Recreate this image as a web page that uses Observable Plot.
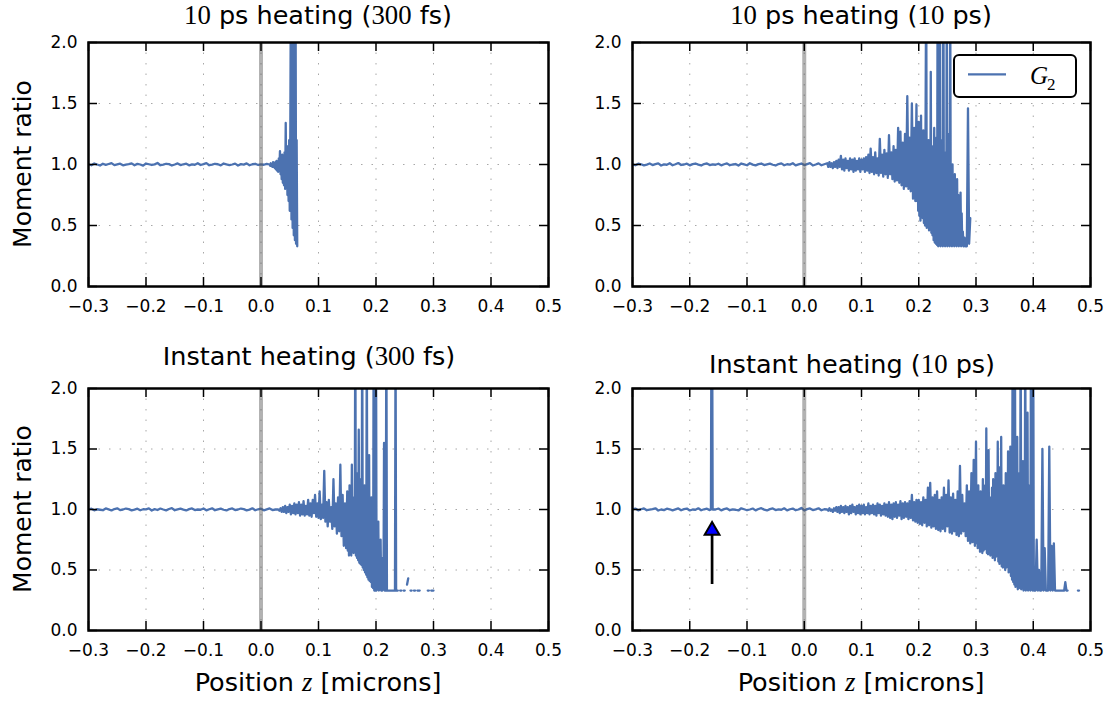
<!DOCTYPE html>
<html>
<head>
<meta charset="utf-8">
<script src="https://cdn.jsdelivr.net/npm/d3@7"></script>
<script src="https://cdn.jsdelivr.net/npm/@observablehq/plot@0.6"></script>
<style>
  body { margin: 0; background: #fff; }
  #chart { position: relative; width: 1111px; height: 705px; overflow: hidden; background: #fff; font-family: "DejaVu Sans", sans-serif; color: #000; }
  .panel { position: absolute; }
  .title { position: absolute; font-size: 25.5px; line-height: 25.5px; text-align: center; white-space: nowrap; }
  .m { font-family: "Liberation Serif", serif; font-size: 1.05em; }
  .mi { font-family: "Liberation Serif", serif; font-style: italic; font-size: 1.05em; }
  .ylab { position: absolute; font-size: 25px; line-height: 25px; white-space: nowrap; transform: translate(-50%, -50%) rotate(-90deg); }
  .xlab { position: absolute; font-size: 25.5px; line-height: 25.5px; text-align: center; white-space: nowrap; }
  .legend { position: absolute; box-sizing: border-box; border: 2px solid #000; border-radius: 6px; background: #fff; }
</style>
</head>
<body>
<div id="chart"></div>
<script>
// ---------- axis ticks ----------
const zTicks = [-0.3, -0.2, -0.1, 0.0, 0.1, 0.2, 0.3, 0.4, 0.5];
const ratioTicks = [0, 0.5, 1.0, 1.5, 2.0];
const markerZ = [0]; // grey band at z = 0

// ---------- panel titles ----------
const titles = [
  '<span class="m">10</span> ps heating (<span class="m">300</span> fs)',
  '<span class="m">10</span> ps heating (<span class="m">10</span> ps)',
  'Instant heating (<span class="m">300</span> fs)',
  'Instant heating (<span class="m">10</span> ps)'
];
const yLabel = "Moment ratio";
const xLabel = 'Position <span class="mi">z</span> [microns]';
const seriesName = "G";
const seriesSub = "2";

// ---------- data: G2 moment ratio ----------
// top-left: z=-0.300..0.010 step 0.005
const tlFlat = [1.002,0.994,1.008,1.000,0.992,1.006,0.997,1.004,1.011,0.995,
  1.001,1.007,0.993,0.999,1.003,1.009,0.994,1.005,1.000,0.991,
  1.008,1.002,0.996,1.001,1.012,0.994,0.999,1.006,1.003,0.992,
  1.000,1.009,0.995,1.002,1.007,0.993,1.001,0.998,1.010,0.996,
  1.003,1.011,0.994,0.999,1.006,1.002,0.993,1.008,1.001,0.995,
  1.000,1.007,0.992,1.003,0.999,1.009,0.994,1.002,1.006,0.996,
  1.001,0.998,1.005];
// top-left: z=0.015..0.063 step 0.001
const tlNoise = [1.00,0.99,1.01,0.99,1.00,0.98,1.02,0.98,1.01,0.97,
  1.02,0.96,1.03,0.95,1.02,0.94,1.05,0.96,1.11,0.92,
  1.06,0.88,1.08,0.85,1.04,0.83,1.10,0.80,1.34,0.82,
  1.12,0.75,1.15,0.70,1.20,0.62,1.30,2.60,0.55,2.80,
  0.48,2.50,0.42,2.90,0.38,2.70,0.35,1.20,0.33];

// top-right: z=-0.300..0.035 step 0.005
const trFlat = [1.001,0.994,1.007,1.002,0.993,0.999,1.008,0.995,1.003,1.009,
  0.992,1.001,0.998,1.010,0.994,1.002,1.012,0.996,1.000,1.007,
  0.993,1.003,1.008,0.999,0.992,1.004,1.009,0.995,1.001,0.998,
  1.006,0.993,1.002,1.009,0.994,1.000,1.004,0.991,1.008,1.001,
  0.994,1.010,0.999,0.993,1.003,1.008,0.995,1.001,1.007,0.998,
  0.992,1.004,1.009,0.994,1.002,0.999,1.010,0.993,1.001,1.008,
  0.995,1.003,1.011,0.992,1.000,1.009,0.994,1.002];
// top-right: z=0.040..0.194 step 0.002
const trNoise = [1.01,0.98,1.02,0.98,1.01,0.97,1.02,0.98,1.03,0.97,
  1.04,0.98,1.07,0.96,1.04,0.95,1.05,0.97,1.03,0.95,
  1.05,0.96,1.04,0.94,1.05,0.95,1.03,0.96,1.05,0.94,
  1.04,0.96,1.05,0.94,1.06,0.95,1.08,0.93,1.13,0.94,
  1.06,0.92,1.10,0.93,1.05,0.91,1.21,0.93,1.08,0.90,
  1.12,0.92,1.09,0.89,1.24,0.92,1.10,0.88,1.15,0.86,
  1.12,0.87,1.30,0.85,1.27,0.83,1.18,0.80,1.25,0.82,
  1.56,0.80,1.22,0.78,1.50,0.72,1.30,0.70];
// top-right: z=0.196..0.280 step 0.001
const trDense = [1.49,0.70,1.20,0.62,1.35,0.58,1.15,0.54,1.40,0.60,
  1.10,0.56,1.28,0.52,1.05,0.50,1.45,2.60,0.48,1.12,
  0.50,1.20,0.46,1.05,0.50,1.76,0.44,1.15,0.42,1.00,
  0.38,1.30,0.36,1.10,0.35,1.22,0.34,2.60,0.33,1.05,
  0.34,2.70,0.33,1.15,0.35,1.20,0.33,2.80,0.35,1.00,
  0.33,1.10,0.34,2.50,0.33,0.95,0.34,1.25,0.33,2.40,
  0.34,0.90,0.33,1.00,0.34,0.85,0.33,0.92,0.34,0.80,
  0.33,0.88,0.34,0.75,0.33,0.70,0.34,0.77,0.33,0.60,
  0.34,0.45,0.33,0.33,0.40];
// top-right: z=0.282..0.290 step 0.002
const trTail = [0.33,0.33,1.46,0.35,0.56];

// bottom-left: z=-0.300..0.025 step 0.005
const blFlat = [1.000,1.007,0.993,1.002,0.998,0.994,1.009,1.001,0.992,1.004,
  1.010,0.995,1.000,1.008,1.003,0.993,0.999,1.007,0.994,1.002,
  1.001,1.009,0.992,1.003,0.996,1.008,1.000,0.993,1.004,1.011,
  0.994,1.001,1.007,0.999,0.992,1.003,1.009,0.995,1.000,0.998,
  1.008,0.993,1.002,1.010,0.994,1.001,1.007,0.998,0.992,1.004,
  1.009,0.995,1.000,1.008,1.003,0.993,0.999,1.010,0.994,1.002,
  1.007,0.993,1.001,1.009,0.995,1.000];
// bottom-left: z=0.030..0.148 step 0.002
const blNoise = [1.00,0.99,1.01,0.98,1.02,0.98,1.03,0.97,1.02,0.98,
  1.04,0.96,1.03,0.97,1.05,0.96,1.04,0.97,1.06,0.95,
  1.04,0.96,1.07,0.95,1.03,0.96,1.08,0.95,1.05,0.94,
  1.08,0.97,1.12,0.94,1.05,0.93,1.15,0.92,1.04,0.93,
  1.32,0.90,1.06,0.86,1.08,0.90,1.02,0.84,1.25,0.86,
  1.05,0.80,1.10,0.82,1.37,0.78,1.12,0.70,1.05,0.68];
// bottom-left: z=0.150..0.236 step 0.001
const blDense = [1.15,0.66,1.02,0.62,1.20,0.65,0.98,0.62,1.37,0.66,
  1.05,0.64,1.10,0.70,2.70,0.62,1.00,0.60,1.30,0.58,
  1.66,0.56,1.05,0.55,1.25,0.54,2.60,0.52,1.00,0.50,
  1.20,0.48,0.95,0.46,2.50,0.44,1.05,0.42,1.45,0.41,
  0.90,0.40,1.10,0.36,0.85,0.35,2.80,0.33,0.95,0.33,
  2.60,0.33,0.80,0.34,0.90,0.33,0.70,0.34,0.75,0.33,
  0.55,0.33,0.60,0.34,1.55,0.33,0.45,0.33,2.70,0.33,
  0.33,0.33,0.33,0.33,0.33,0.33,0.33,0.33,0.33,0.33,
  0.33,0.33,0.33,0.33,2.50,0.33,0.33];
// bottom-left: z=0.238..0.300 step 0.002 (null = no value)
const blTail = [0.33,null,0.33,0.33,null,0.33,0.33,null,0.38,0.43,
  null,0.33,0.33,null,0.33,0.33,null,0.33,0.33,0.33,
  null,null,null,null,null,null,0.33,0.33,null,0.33,
  0.33,0.33];

// bottom-right: z=-0.300..-0.165 step 0.005
const brFlatA = [1.001,1.008,0.993,1.002,1.009,0.994,0.999,1.003,1.010,0.992,
  1.000,0.995,1.007,1.002,0.993,1.001,1.009,0.994,1.003,1.008,
  0.992,1.000,0.998,1.010,0.994,1.002,1.007,0.995];
// bottom-right: isolated spike z=-0.163..-0.160 step 0.001
const brSpike = [1.00,2.80,2.80,1.00];
// bottom-right: z=-0.155..0.035 step 0.005
const brFlatB = [1.000,1.008,0.993,1.003,1.009,0.994,1.001,0.998,0.992,1.010,
  1.002,0.994,1.000,1.008,0.993,1.004,1.011,0.999,0.992,1.003,
  1.009,0.995,1.001,0.998,1.010,0.993,1.002,1.008,0.994,1.000,
  1.013,0.992,1.003,1.009,0.995,1.001,1.010,0.994,1.002];
// bottom-right: z=0.040..0.298 step 0.002
const brNoise = [1.00,0.99,1.01,0.99,1.00,0.98,1.01,0.99,1.02,0.98,
  1.02,0.97,1.03,0.98,1.02,0.97,1.03,0.98,1.02,0.96,
  1.03,0.97,1.04,0.98,1.02,0.96,1.03,0.97,1.04,0.96,
  1.03,0.97,1.04,0.96,1.02,0.97,1.05,0.96,1.03,0.97,
  1.04,0.96,1.03,0.95,1.05,0.97,1.04,0.95,1.03,0.96,
  1.05,0.95,1.04,0.94,1.06,0.93,1.04,0.92,1.05,0.94,
  1.06,0.93,1.04,0.95,1.07,0.92,1.05,0.93,1.06,0.94,
  1.05,0.92,1.07,0.93,1.12,0.91,1.06,0.90,1.08,0.89,
  1.08,0.88,1.06,0.87,1.10,0.89,1.08,0.86,1.18,0.87,
  1.22,0.85,1.10,0.86,1.12,0.84,1.15,0.83,1.08,0.82,
  1.10,0.84,1.18,0.82,1.12,0.86,1.24,0.81,1.10,0.80,
  1.13,0.82,1.08,0.79,1.15,0.78,1.36,0.80,1.12,0.82,
  1.05,0.78,1.20,0.74,1.15,0.72,1.30,0.73,1.41,0.70];
// bottom-right: z=0.300..0.402 step 0.001
const brDense = [1.56,0.72,1.05,0.68,1.20,0.70,1.10,0.65,1.15,0.68,
  1.00,0.64,1.25,0.66,1.08,0.67,1.20,0.70,1.67,0.64,
  1.12,0.63,1.49,0.66,1.05,0.62,1.10,0.64,1.18,0.60,
  1.25,0.62,1.02,0.58,1.30,0.61,1.10,0.62,1.56,0.57,
  1.15,0.55,1.35,0.58,1.60,0.53,1.10,0.52,1.20,0.55,
  1.05,0.50,1.30,0.52,1.15,0.55,1.48,0.48,1.20,0.50,
  1.52,0.45,1.25,0.42,2.60,0.40,1.30,0.38,2.50,0.36,
  1.20,0.38,1.60,0.34,1.15,0.36,1.30,0.35,2.70,0.34,
  1.25,0.36,1.40,0.33,1.10,0.34,2.60,0.33,1.20,0.35,
  1.80,0.33,1.05,0.35,1.20,0.33,2.50,0.34,2.30,0.33,
  2.40,0.33,0.33];
// bottom-right: z=0.404..0.480 step 0.002 (null = no value)
const brTail = [0.33,0.75,0.33,0.50,0.33,0.33,1.50,0.33,
  0.68,0.33,0.33,0.33,1.52,0.33,0.70,0.33,0.72,0.33,
  0.33,0.33,0.33,0.33,0.33,0.33,0.33,0.33,0.40,0.33,
  0.33,null,null,null,null,null,null,null,null,0.33,
  0.33];

// arrow annotation (bottom-right panel)
const arrowZ = [-0.161];
const arrowTail = [0.38];
const arrowHeadBase = [0.80];
const arrowTip = [0.905];

// ---------- layout ----------
const lineColor = "#4C72B0";
const panels = [
  {left: 0,   top: 0,   width: 555, height: 330, ml: 88, mr: 7,  mt: 42, mb: 44,
   segs: [[-0.300, 0.005, tlFlat], [0.015, 0.001, tlNoise]], titleTop: 3, titleShift: 0},
  {left: 555, top: 0,   width: 556, height: 330, ml: 77, mr: 21, mt: 42, mb: 44,
   segs: [[-0.300, 0.005, trFlat], [0.040, 0.002, trNoise], [0.196, 0.001, trDense], [0.282, 0.002, trTail]],
   titleTop: 3, titleShift: 0, legend: true},
  {left: 0,   top: 330, width: 555, height: 375, ml: 88, mr: 7,  mt: 58, mb: 75,
   segs: [[-0.300, 0.005, blFlat], [0.030, 0.002, blNoise], [0.150, 0.001, blDense], [0.238, 0.002, blTail]],
   titleTop: 344, titleShift: -9, xlab: true},
  {left: 555, top: 330, width: 556, height: 375, ml: 77, mr: 21, mt: 58, mb: 75,
   segs: [[-0.300, 0.005, brFlatA], [-0.163, 0.001, brSpike], [-0.155, 0.005, brFlatB],
          [0.040, 0.002, brNoise], [0.300, 0.001, brDense], [0.404, 0.002, brTail]],
   titleTop: 352, titleShift: -9, xlab: true, arrow: true}
];

const fmt = d3.format(".1f");
const chart = document.getElementById("chart");
const tickLen = 9;
const gridStyle = {stroke: "#a8a8a8", strokeOpacity: 1, strokeWidth: 1, strokeDasharray: "1.5,9"};
const tickFont = {fontSize: 17, fontFamily: "DejaVu Sans, sans-serif"};

panels.forEach((p, idx) => {
  const rows = [];
  for (const [z0, step, ys] of p.segs) {
    ys.forEach((v, i) => rows.push({z: +(z0 + i * step).toFixed(4), y: v}));
  }
  const fw = p.width - p.ml - p.mr;
  const fh = p.height - p.mt - p.mb;

  const marks = [
    Plot.gridX(zTicks, gridStyle),
    Plot.gridY(ratioTicks, gridStyle),
    Plot.line(rows, {x: "z", y: "y", stroke: lineColor, strokeWidth: 2.3, clip: true}),
    Plot.ruleX(markerZ, {x: d => d, stroke: "#555", strokeOpacity: 0.45, strokeWidth: 4}),
    Plot.tickX(zTicks, {x: d => d, stroke: "black", strokeWidth: 1.5, insetTop: fh - tickLen}),
    Plot.tickX(zTicks, {x: d => d, stroke: "black", strokeWidth: 1.5, insetBottom: fh - tickLen}),
    Plot.tickY(ratioTicks, {y: d => d, stroke: "black", strokeWidth: 1.5, insetRight: fw - tickLen}),
    Plot.tickY(ratioTicks, {y: d => d, stroke: "black", strokeWidth: 1.5, insetLeft: fw - tickLen}),
    Plot.axisX(zTicks, {tickSize: 0, tickPadding: 13, tickFormat: fmt, label: null, ...tickFont}),
    Plot.axisY(ratioTicks, {tickSize: 0, tickPadding: 11, tickFormat: fmt, label: null, ...tickFont})
  ];
  if (p.arrow) {
    const arrowData = arrowZ.map((z, i) => ({z, tail: arrowTail[i], base: arrowHeadBase[i], tip: arrowTip[i]}));
    marks.push(Plot.ruleX(arrowData, {x: "z", y1: "tail", y2: "base", stroke: "black", strokeWidth: 2.7}));
    marks.push(Plot.dot(arrowData, {x: "z", y: "tip", symbol: "triangle", r: 5.5, fill: "#0000ff", stroke: "black", strokeWidth: 2, dy: 9.5}));
  }
  marks.push(Plot.frame({stroke: "black", strokeWidth: 2.5}));

  const svg = Plot.plot({
    width: p.width, height: p.height,
    marginLeft: p.ml, marginRight: p.mr, marginTop: p.mt, marginBottom: p.mb,
    x: {domain: [-0.3, 0.5]},
    y: {domain: [0, 2]},
    style: "overflow: visible; background: transparent; font-family: 'DejaVu Sans', sans-serif; font-size: 17px; color: black;",
    marks
  });
  const wrap = document.createElement("div");
  wrap.className = "panel";
  wrap.style.left = p.left + "px";
  wrap.style.top = p.top + "px";
  wrap.style.width = p.width + "px";
  wrap.style.height = p.height + "px";
  wrap.appendChild(svg);
  chart.appendChild(wrap);

  const t = document.createElement("div");
  t.className = "title";
  t.style.left = (p.left + p.ml + p.titleShift) + "px";
  t.style.width = fw + "px";
  t.style.top = p.titleTop + "px";
  t.innerHTML = titles[idx];
  chart.appendChild(t);

  if (p.left === 0) {
    const yl = document.createElement("div");
    yl.className = "ylab";
    yl.style.left = "21.5px";
    yl.style.top = (p.top + p.mt + fh / 2) + "px";
    yl.textContent = yLabel;
    chart.appendChild(yl);
  }
  if (p.xlab) {
    const xl = document.createElement("div");
    xl.className = "xlab";
    xl.style.left = (p.left + p.ml) + "px";
    xl.style.width = fw + "px";
    xl.style.top = "670px";
    xl.innerHTML = xLabel;
    chart.appendChild(xl);
  }
  if (p.legend) {
    const lg = document.createElement("div");
    lg.className = "legend";
    lg.style.left = "953px";
    lg.style.top = "54px";
    lg.style.width = "124px";
    lg.style.height = "44px";
    lg.innerHTML =
      '<svg width="120" height="40" style="position:absolute;left:0;top:0;overflow:visible">' +
      '<line x1="13" x2="51" y1="18.3" y2="18.3" stroke="' + lineColor + '" stroke-width="2.3"/>' +
      '<text x="75" y="27.5" font-family="Liberation Serif, serif" font-style="italic" font-size="25">' + seriesName + '</text>' +
      '<text x="92" y="33.5" font-family="Liberation Serif, serif" font-size="17">' + seriesSub + '</text>' +
      '</svg>';
    chart.appendChild(lg);
  }
});
</script>
</body>
</html>
